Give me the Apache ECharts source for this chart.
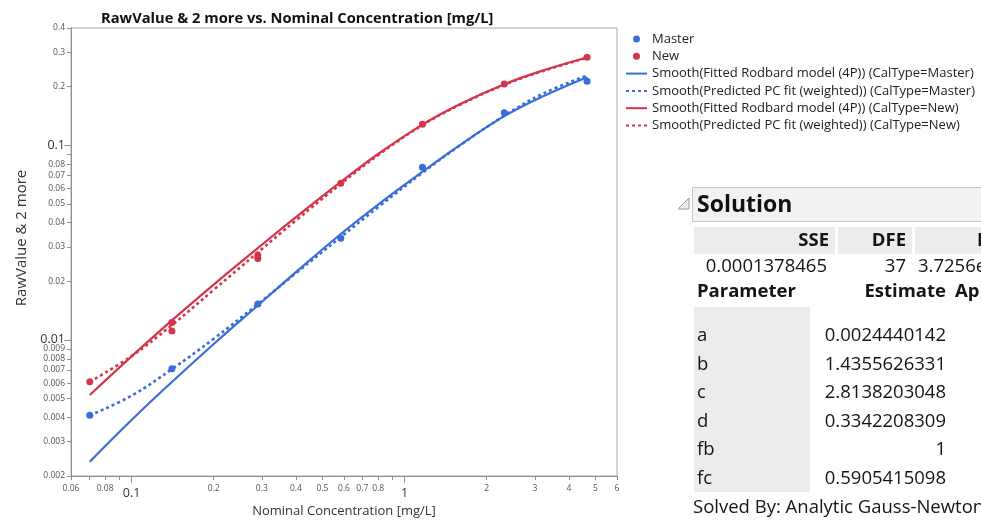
<!DOCTYPE html>
<html>
<head>
<meta charset="utf-8">
<script src="https://cdn.jsdelivr.net/npm/echarts@6/dist/echarts.min.js"></script>
<style>
  html, body { margin: 0; padding: 0; background: #fff; }
  #chart { width: 981px; height: 520px; }
</style>
</head>
<body>
<div id="chart"></div>
<script>
// Calibration standards, nominal concentration in mg/L
const masterConc = [0.0703, 0.1405, 0.29, 0.584, 1.163, 2.32, 4.66];
const masterRaw  = [0.0041, 0.0071, 0.0153, 0.0333, 0.077, 0.147, 0.213];
const newConc    = [0.0703, 0.1405, 0.1405, 0.29, 0.29, 0.584, 1.163, 2.32, 4.66];
const newRaw     = [0.0061, 0.0123, 0.0111, 0.0273, 0.0262, 0.0637, 0.128, 0.206, 0.283];

// Smoothed fit curves, sampled along the concentration range
const curveConc     = [0.0703, 0.1, 0.1405, 0.2, 0.29, 0.4, 0.584, 0.8, 1.163, 1.6, 2.32, 3.2, 4.66];
const rodbardMaster = [0.00237, 0.00388, 0.00608, 0.00953, 0.01502, 0.0223, 0.0350, 0.0496, 0.0731, 0.1005, 0.1410, 0.1777, 0.2235];
const pcMaster      = [0.0041, 0.00517, 0.00708, 0.01014, 0.01526, 0.02202, 0.03377, 0.04803, 0.07222, 0.1000, 0.1418, 0.1834, 0.2280];
const rodbardNew    = [0.00521, 0.00823, 0.0126, 0.01925, 0.02961, 0.04272, 0.06477, 0.09013, 0.1276, 0.1627, 0.2056, 0.2415, 0.2822];
const pcNew         = [0.0061, 0.00826, 0.01192, 0.01808, 0.02814, 0.04112, 0.0633, 0.08893, 0.1269, 0.1618, 0.2044, 0.2401, 0.2811];

// Log axis ticks and labels
const xTicks  = ['0.06','0.07','0.08','0.09','0.1','0.2','0.3','0.4','0.5','0.6','0.7','0.8','0.9','1','2','3','4','5','6'];
const xLabels = ['0.06','0.08','0.1','0.2','0.3','0.4','0.5','0.6','0.7','0.8','1','2','3','4','5','6'];
const xMajor  = ['0.1','1'];
const yTicks  = ['0.002','0.003','0.004','0.005','0.006','0.007','0.008','0.009','0.01','0.02','0.03','0.04','0.05','0.06','0.07','0.08','0.09','0.1','0.2','0.3','0.4'];
const yLabels = ['0.002','0.003','0.004','0.005','0.006','0.007','0.008','0.009','0.01','0.02','0.03','0.04','0.05','0.06','0.07','0.08','0.1','0.2','0.3','0.4'];
const yMajor  = ['0.01','0.1'];

// Solution report
const fitSummaryHead = ['SSE', 'DFE', 'MSE'];
const fitSummaryVals = ['0.0001378465', '37', '3.7256e-6'];
const paramNames     = ['a', 'b', 'c', 'd', 'fb', 'fc'];
const paramEstimates = ['0.0024440142', '1.4355626331', '2.8138203048', '0.3342208309', '1', '0.5905415098'];

const seriesNames = [
  'Master', 'New',
  'Smooth(Fitted Rodbard model (4P)) (CalType=Master)',
  'Smooth(Predicted PC fit (weighted)) (CalType=Master)',
  'Smooth(Fitted Rodbard model (4P)) (CalType=New)',
  'Smooth(Predicted PC fit (weighted)) (CalType=New)'
];

const FONT = '"Open Sans", "Noto Sans", sans-serif';
const BLUE = '#3a6dd8';
const RED = '#d3364b';
const lg = Math.log10;
const pairs = (xs, ys) => xs.map((x, i) => [x, ys[i]]);

function tickFormatter(labels, majors) {
  return function (v) {
    for (const s of labels) {
      if (Math.abs(lg(parseFloat(s)) - v) < 1e-7) {
        return majors.indexOf(s) >= 0 ? '{big|' + s + '}' : '{small|' + s + '}';
      }
    }
    return '';
  };
}
const yRich = {
  small: { fontSize: 8.5, color: '#555', fontFamily: FONT },
  big: { fontSize: 12.5, color: '#333', fontFamily: FONT }
};
const xRich = {
  small: { fontSize: 8.5, color: '#555', fontFamily: FONT },
  big: { fontSize: 12.5, color: '#333', fontFamily: FONT, padding: [3, 0, 0, 0] }
};
const axisGray = '#8f8f8f';
const X_MIN = 0.06, X_MAX = 6, Y_MIN = 0.002, Y_MAX = 0.4;

const chart = echarts.init(document.getElementById('chart'));

// Report table pieces
const graphics = [
  { type: 'polygon', shape: { points: [[678, 209], [689, 209], [689, 198]] },
    style: { fill: '#efefef', stroke: '#9a9a9a', lineWidth: 1 } },
  { type: 'rect', shape: { x: 692.5, y: 187.5, width: 300, height: 34 },
    style: { fill: '#f2f2f2', stroke: '#c6c6c6', lineWidth: 1 } },
  { type: 'text', style: { text: 'Solution', x: 697, y: 205, font: 'bold 23px ' + FONT, fill: '#111',
    align: 'left', verticalAlign: 'middle', textAlign: 'left', textVerticalAlign: 'middle' } },
  { type: 'rect', shape: { x: 694, y: 227, width: 141, height: 27 }, style: { fill: '#ececec' } },
  { type: 'rect', shape: { x: 838, y: 227, width: 74, height: 27 }, style: { fill: '#ececec' } },
  { type: 'rect', shape: { x: 915, y: 227, width: 80, height: 27 }, style: { fill: '#ececec' } },
  { type: 'rect', shape: { x: 694, y: 307, width: 116, height: 185 }, style: { fill: '#ececec' } }
];
function txt(text, x, y, align, bold, size) {
  graphics.push({ type: 'text', style: {
    text: text, x: x, y: y, font: (bold ? 'bold ' : '') + (size || 18.5) + 'px ' + FONT, fill: '#151515',
    align: align, verticalAlign: 'middle', textAlign: align, textVerticalAlign: 'middle' } });
}
txt(fitSummaryHead[0], 829, 241, 'right', true);
txt(fitSummaryHead[1], 906, 241, 'right', true);
txt(fitSummaryHead[2], 977, 241, 'left', true);
txt(fitSummaryVals[0], 827, 267, 'right', false);
txt(fitSummaryVals[1], 906, 267, 'right', false);
txt(fitSummaryVals[2], 918, 267, 'left', false);
txt('Parameter', 697, 292, 'left', true);
txt('Estimate', 946, 292, 'right', true);
txt('ApproxStdErr', 955, 292, 'left', true);
paramNames.forEach((n, i) => {
  const y = 336 + i * 28.5;
  txt(n, 697, y, 'left', false);
  txt(paramEstimates[i], 946, y, 'right', false);
});
txt('Solved By: Analytic Gauss-Newton', 693, 508, 'left', false, 18.5);

// Legend lines carry no marker
const hideMarker = { opacity: 0 };

chart.setOption({
  animation: false,
  backgroundColor: '#fff',
  textStyle: { fontFamily: FONT },
  title: {
    text: 'RawValue & 2 more vs. Nominal Concentration [mg/L]',
    left: 96, top: 6,
    textStyle: { fontSize: 14.7, fontWeight: 'bold', color: '#111', fontFamily: FONT }
  },
  grid: {
    left: 71, right: 364, top: 28, bottom: 44, outerBoundsMode: 'none',
    show: true, borderColor: '#a8a8a8', borderWidth: 1
  },
  legend: {
    orient: 'vertical', left: 625, top: 32, padding: 0,
    itemWidth: 21, itemHeight: 7, itemGap: 3.3,
    textStyle: { fontSize: 13, color: '#222', lineHeight: 14, fontFamily: FONT },
    data: [
      { name: seriesNames[0], icon: 'circle' },
      { name: seriesNames[1], icon: 'circle' },
      { name: seriesNames[2], itemStyle: hideMarker },
      { name: seriesNames[3], itemStyle: hideMarker },
      { name: seriesNames[4], itemStyle: hideMarker },
      { name: seriesNames[5], itemStyle: hideMarker }
    ]
  },
  xAxis: [
    { type: 'log', logBase: 10, min: X_MIN, max: X_MAX, show: false },
    {
      type: 'value', min: lg(X_MIN), max: lg(X_MAX), position: 'bottom',
      axisLine: { show: true, onZero: false, lineStyle: { color: axisGray } },
      axisTick: { show: true, length: 4, customValues: xTicks.map(s => lg(parseFloat(s))), lineStyle: { color: axisGray } },
      axisLabel: { customValues: xLabels.map(s => lg(parseFloat(s))), formatter: tickFormatter(xLabels, xMajor), rich: xRich, margin: 8 },
      splitLine: { show: false },
      name: 'Nominal Concentration [mg/L]', nameLocation: 'middle', nameGap: 29,
      nameTextStyle: { fontSize: 13, color: '#333', fontFamily: FONT }
    },
    {
      type: 'value', min: lg(X_MIN), max: lg(X_MAX), position: 'bottom',
      axisLine: { show: false, onZero: false },
      axisTick: { show: true, length: 7, customValues: xMajor.map(s => lg(parseFloat(s))), lineStyle: { color: axisGray } },
      axisLabel: { show: false }, splitLine: { show: false }
    }
  ],
  yAxis: [
    { type: 'log', logBase: 10, min: Y_MIN, max: Y_MAX, show: false },
    {
      type: 'value', min: lg(Y_MIN), max: lg(Y_MAX), position: 'left',
      axisLine: { show: true, onZero: false, lineStyle: { color: axisGray } },
      axisTick: { show: true, length: 4, customValues: yTicks.map(s => lg(parseFloat(s))), lineStyle: { color: axisGray } },
      axisLabel: { customValues: yLabels.map(s => lg(parseFloat(s))), formatter: tickFormatter(yLabels, yMajor), rich: yRich, margin: 6 },
      splitLine: { show: false },
      name: 'RawValue & 2 more', nameLocation: 'middle', nameGap: 42,
      nameTextStyle: { fontSize: 15, color: '#333', fontFamily: FONT, padding: [0, 0, 0, 28] }
    },
    {
      type: 'value', min: lg(Y_MIN), max: lg(Y_MAX), position: 'left',
      axisLine: { show: false, onZero: false },
      axisTick: { show: true, length: 7, customValues: yMajor.map(s => lg(parseFloat(s))), lineStyle: { color: axisGray } },
      axisLabel: { show: false }, splitLine: { show: false }
    }
  ],
  series: [
    { name: seriesNames[0], type: 'scatter', data: pairs(masterConc, masterRaw), symbolSize: 7,
      itemStyle: { color: BLUE, opacity: 1 }, z: 5 },
    { name: seriesNames[1], type: 'scatter', data: pairs(newConc, newRaw), symbolSize: 7,
      itemStyle: { color: RED, opacity: 1 }, z: 5 },
    { name: seriesNames[2], type: 'line', data: pairs(curveConc, rodbardMaster), smooth: 0.4, symbol: 'none',
      itemStyle: { color: BLUE }, lineStyle: { color: BLUE, width: 2.2 }, z: 3 },
    { name: seriesNames[3], type: 'line', data: pairs(curveConc, pcMaster), smooth: 0.4, symbol: 'none',
      itemStyle: { color: BLUE }, lineStyle: { color: BLUE, width: 2.6, type: [3, 3] }, z: 3 },
    { name: seriesNames[4], type: 'line', data: pairs(curveConc, rodbardNew), smooth: 0.4, symbol: 'none',
      itemStyle: { color: RED }, lineStyle: { color: RED, width: 2.2 }, z: 3 },
    { name: seriesNames[5], type: 'line', data: pairs(curveConc, pcNew), smooth: 0.4, symbol: 'none',
      itemStyle: { color: RED }, lineStyle: { color: RED, width: 2.6, type: [3, 3] }, z: 3 }
  ],
  graphic: graphics
});
</script>
</body>
</html>
